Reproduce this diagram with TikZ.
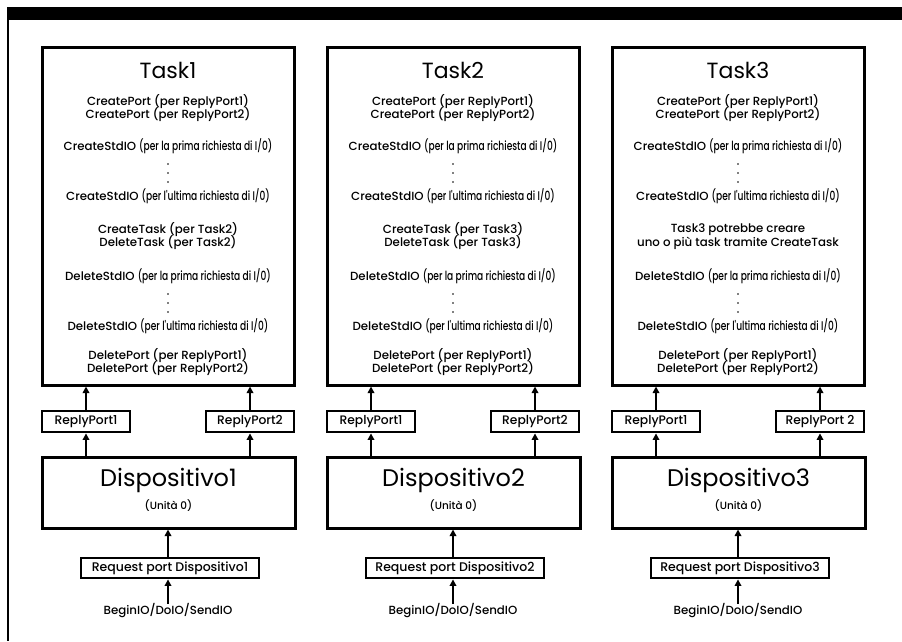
\documentclass[tikz,border=0pt]{standalone}
\usepackage{fontspec}
\setmainfont{Poppins}[UprightFont={* Medium}]
\newfontfamily\condf[FakeStretch=0.72, UprightFont={* Medium}]{Poppins}
\newfontfamily\regf{Poppins}
\usetikzlibrary{arrows.meta}
\tikzset{
  box/.style={draw, line width=3pt, inner sep=0pt, fill=white},
  tbox/.style={box, minimum width=252pt, minimum height=338pt},
  rpbox/.style={box, line width=2.8pt, minimum width=88pt, minimum height=21pt, font=\fontsize{12.3}{13}\selectfont},
  dbox/.style={box, minimum width=253pt, minimum height=71pt},
  rqbox/.style={box, line width=2.8pt, minimum width=178pt, minimum height=20pt, font=\fontsize{12.5}{13}\selectfont},
  ttl/.style={inner sep=0pt, font=\regf\fontsize{22}{24}\selectfont},
  dttl/.style={inner sep=0pt, font=\regf\fontsize{24}{26}\selectfont},
  ln/.style={inner sep=0pt, font=\fontsize{11.8}{13}\selectfont},
  sm/.style={inner sep=0pt, font=\fontsize{10.5}{12}\selectfont},
  arr/.style={line width=2pt, -{Triangle[length=6.5pt,width=6.5pt]}},
  dotc/.style={fill=black},
}
\newcommand\parf[1]{{\condf\fontsize{12.6}{13}\selectfont #1}}
\newcommand\taskcol[5]{%
\begin{scope}[xshift=#1pt]
  \node[tbox] (t#2) at (168,216) {};
  \node[ttl] (tt#2) at (168,70) {Task#2};
  \node[ln] (a#2) at (168,102) {CreatePort (per ReplyPort1)};
  \node[ln] (b#2) at (168,115) {CreatePort (per ReplyPort2)};
  \node[ln] (c#2) at (168,146) {CreateStdIO \parf{(per la prima richiesta di I/0)}};
  \fill[dotc] (168,164) circle (0.9pt) (168,173) circle (0.9pt) (168,182) circle (0.9pt);
  \node[ln] (e#2) at (168,196) {CreateStdIO \parf{(per l'ultima richiesta di I/0)}};
  \node[ln] (f#2) at (168,230) {#3};
  \node[ln] (g#2) at (168,243) {#4};
  \node[ln] (h#2) at (168,276) {DeleteStdIO \parf{(per la prima richiesta di I/0)}};
  \fill[dotc] (168,294) circle (0.9pt) (168,303) circle (0.9pt) (168,312) circle (0.9pt);
  \node[ln] (i#2) at (168,326) {DeleteStdIO \parf{(per l'ultima richiesta di I/0)}};
  \node[ln] (j#2) at (168,356) {DeletePort (per ReplyPort1)};
  \node[ln] (k#2) at (168,369) {DeletePort (per ReplyPort2)};
  \node[rpbox] (rpa#2) at (86,421.5) {ReplyPort1};
  \node[rpbox] (rpb#2) at (250,421.5) {#5};
  \node[dbox] (d#2) at (168.5,492.5) {};
  \node[dttl] (dt#2) at (168.5,480) {Dispositivo#2};
  \node[sm] (du#2) at (168.5,506) {(Unità 0)};
  \node[rqbox] (rq#2) at (170,568) {Request port Dispositivo#2};
  \node[ln] (bio#2) at (168,611) {BeginIO/DoIO/SendIO};
  \draw[arr] (rpa#2.north) -- (rpa#2.north |- t#2.south);
  \draw[arr] (rpb#2.north) -- (rpb#2.north |- t#2.south);
  \draw[arr] (rpa#2.north |- d#2.north) -- (rpa#2.south);
  \draw[arr] (rpb#2.north |- d#2.north) -- (rpb#2.south);
  \draw[arr] (rq#2.north -| bio#2) -- (bio#2 |- d#2.south);
  \draw[arr] (bio#2.north) -- (bio#2 |- rq#2.south);
\end{scope}}
\begin{document}
\begin{tikzpicture}[x=1pt,y=-1pt]
  \useasboundingbox (0,0) rectangle (902,641);
  \fill[black] (7,7) rectangle (902,20);
  \draw[line width=2pt] (8,7) -- (8,641);
  \taskcol{0}{1}{CreateTask (per Task2)}{DeleteTask (per Task2)}{ReplyPort2}
  \taskcol{285}{2}{CreateTask (per Task3)}{DeleteTask (per Task3)}{ReplyPort2}
  \taskcol{570}{3}{Task3 potrebbe creare}{uno o più task tramite CreateTask}{ReplyPort 2}
\end{tikzpicture}
\end{document}
